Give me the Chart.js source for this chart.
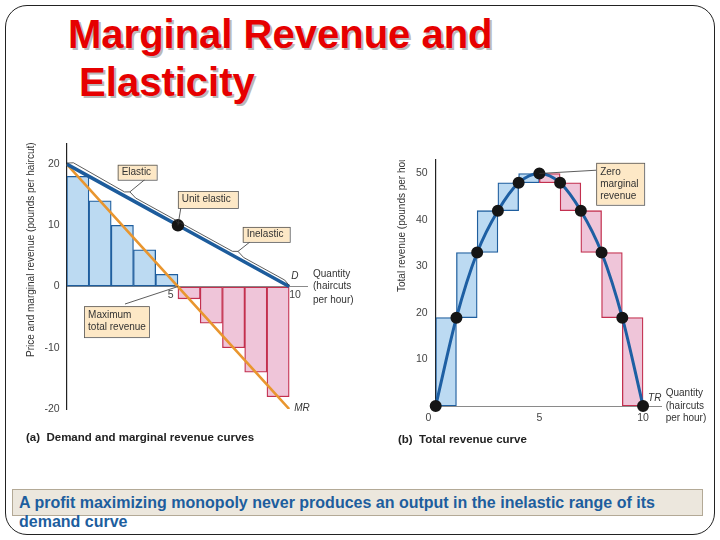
<!DOCTYPE html>
<html>
<head>
<meta charset="utf-8">
<script src="https://cdn.jsdelivr.net/npm/chart.js@4.4.1/dist/chart.umd.min.js"></script>
<style>
    html, body { margin: 0; padding: 0; background: #fff; }
    body { width: 720px; height: 540px; position: relative; overflow: hidden; font-family: "Liberation Sans", Arial, sans-serif; }
    #frame { position: absolute; left: 5px; top: 5px; width: 708px; height: 528px; border: 1px solid #222; border-radius: 22px; }
    #title { position: absolute; left: 68px; top: 10px; font-size: 40px; font-weight: bold; line-height: 48px; color: #e60000; text-shadow: 2px 2px 0 #b9b9b9; white-space: nowrap; }
    .wrap { position: absolute; }
    #mrWrap { left: 0; top: 130px; width: 360px; height: 320px; }
    #trWrap { left: 380px; top: 140px; width: 340px; height: 310px; }
    .cap { position: absolute; font-size: 11.5px; line-height: 14px; font-weight: bold; color: #222; white-space: nowrap; }
    #note { position: absolute; left: 12px; top: 489px; width: 689px; height: 25px; background: #ece7dd; border: 1px solid #b3a996; }
    #noteText { position: absolute; left: 19px; top: 493px; font-size: 16px; line-height: 19px; font-weight: bold; color: #1d5e9e; white-space: nowrap; }
</style>
</head>
<body>
<div id="frame"></div>
<div id="title">Marginal Revenue and<br>&nbsp;Elasticity</div>

<div class="wrap" id="mrWrap"><canvas id="mrChart" width="360" height="320"></canvas></div>
<div class="wrap" id="trWrap"><canvas id="trChart" width="340" height="310"></canvas></div>

<div class="cap" style="left:26px; top:430px;">(a)&nbsp; Demand and marginal revenue curves</div>
<div class="cap" style="left:398px; top:432px;">(b)&nbsp; Total revenue curve</div>

<div id="note"></div>
<div id="noteText">A profit maximizing monopoly never produces an output in the inelastic range of its<br>demand curve</div>

<script>
// данные: количество стрижек в час
const quantity = [0, 1, 2, 3, 4, 5, 6, 7, 8, 9, 10];
const demandPrice = [20, 18, 16, 14, 12, 10, 8, 6, 4, 2, 0];
const marginalRevenueLine = [20, 16, 12, 8, 4, 0, -4, -8, -12, -16, -20];
// столбики: середины интервалов и предельная выручка
const barCentres = [0.5, 1.5, 2.5, 3.5, 4.5, 5.5, 6.5, 7.5, 8.5, 9.5];
const marginalRevenue = [18, 14, 10, 6, 2, -2, -6, -10, -14, -18];
const totalRevenue = [0, 19, 33, 42, 48, 50, 48, 42, 33, 19, 0];
// подписи осей
const priceTicks = [-20, -10, 0, 10, 20];
const revenueTicks = [10, 20, 30, 40, 50];
const quantityTicksA = [5, 10];
const quantityTicksB = [0, 5, 10];

const BLUE_FILL = '#bcdaf2';
const BLUE_LINE = '#1f5e9e';
const PINK_FILL = '#efc5d9';
const PINK_LINE = '#c3304f';
const ORANGE = '#e9962f';
const TXT = '#333';
const FONT = '"Liberation Sans", Arial, sans-serif';

const barFill = marginalRevenue.map(v => v > 0 ? BLUE_FILL : PINK_FILL);
const barEdge = marginalRevenue.map(v => v > 0 ? BLUE_LINE : PINK_LINE);

function demandAt(q) {
    const i = Math.min(Math.floor(q), quantity.length - 2);
    const t = q - quantity[i];
    return demandPrice[i] + (demandPrice[i + 1] - demandPrice[i]) * t;
}

function drawBox(ctx, x, y, w, h, lines) {
    ctx.save();
    ctx.fillStyle = '#fde8c6';
    ctx.strokeStyle = '#555';
    ctx.lineWidth = 0.8;
    ctx.fillRect(x, y, w, h);
    ctx.strokeRect(x + 0.5, y + 0.5, w, h);
    ctx.fillStyle = TXT;
    ctx.font = '10px ' + FONT;
    ctx.textAlign = 'left';
    ctx.textBaseline = 'middle';
    const mid = y + h / 2;
    lines.forEach((t, i) => ctx.fillText(t, x + 4, mid + (i - (lines.length - 1) / 2) * 12));
    ctx.restore();
}

function leader(ctx, x1, y1, x2, y2) {
    ctx.save();
    ctx.strokeStyle = '#333';
    ctx.lineWidth = 0.8;
    ctx.beginPath();
    ctx.moveTo(x1, y1);
    ctx.lineTo(x2, y2);
    ctx.stroke();
    ctx.restore();
}

function label(ctx, text, x, y, italic) {
    ctx.save();
    ctx.fillStyle = TXT;
    ctx.font = (italic ? 'italic ' : '') + '10px ' + FONT;
    ctx.textAlign = 'left';
    ctx.textBaseline = 'middle';
    ctx.fillText(text, x, y);
    ctx.restore();
}

function axisTitle(ctx, text, x, y, clipTop) {
    ctx.save();
    ctx.beginPath();
    ctx.rect(0, clipTop, ctx.canvas.width, ctx.canvas.height);
    ctx.clip();
    ctx.translate(x, y);
    ctx.rotate(-Math.PI / 2);
    ctx.fillStyle = TXT;
    ctx.font = '10px ' + FONT;
    ctx.textAlign = 'left';
    ctx.textBaseline = 'middle';
    ctx.fillText(text, 0, 0);
    ctx.restore();
}

// подписи и выноски для графика (a)
const notesA = {
    id: 'notesA',
    afterDatasetsDraw(chart) {
        const ctx = chart.ctx;
        const xs = chart.scales.x, ys = chart.scales.y;
        const px = q => xs.getPixelForValue(q);
        const py = v => ys.getPixelForValue(v);

        // скобка над кривой спроса
        const brace = [[0, -1], [0.3, -5], [2.6, -4], [2.84, -7], [3.1, -4], [4.9, -4], [5, -2], [5.1, -4], [7.45, -4], [7.7, -7], [7.95, -4], [9.8, -4], [10, -1]];
        ctx.save();
        ctx.strokeStyle = '#333';
        ctx.lineWidth = 0.8;
        ctx.beginPath();
        brace.forEach(([q, d], i) => {
            const X = px(q), Y = py(demandAt(q)) + d;
            if (i === 0) ctx.moveTo(X, Y); else ctx.lineTo(X, Y);
        });
        ctx.stroke();
        ctx.restore();

        leader(ctx, px(3.52), py(17.5), px(2.84), py(demandAt(2.84)) - 7);
        leader(ctx, px(5.13), py(12.85), px(5), py(demandAt(5)));
        leader(ctx, px(8.24), py(7.3), px(7.7), py(demandAt(7.7)) - 7);
        leader(ctx, px(2.62), py(-2.85), px(5), py(0));

        drawBox(ctx, px(2.29), py(19.9), 39, 15, ['Elastic']);
        drawBox(ctx, px(4.995), py(15.6), 60, 17, ['Unit elastic']);
        drawBox(ctx, px(7.91), py(9.75), 47, 15, ['Inelastic']);
        drawBox(ctx, px(0.78), py(-3.2), 65, 31, ['Maximum', 'total revenue']);

        label(ctx, 'D', px(10) + 2, py(0) - 10, true);
        label(ctx, 'MR', px(10) + 5, py(-20) - 1, true);
        const qx = chart.chartArea.right + 6, qy = py(0);
        label(ctx, 'Quantity', qx, qy - 12.5);
        label(ctx, '(haircuts', qx, qy);
        label(ctx, 'per hour)', qx, qy + 13.5);

        axisTitle(ctx, 'Price and marginal revenue (pounds per haircut)', 31, 227, 10);
    }
};

// подписи и выноски для графика (b)
const notesB = {
    id: 'notesB',
    afterDatasetsDraw(chart) {
        const ctx = chart.ctx;
        const xs = chart.scales.x, ys = chart.scales.y;
        const px = q => xs.getPixelForValue(q);
        const py = v => ys.getPixelForValue(v);

        leader(ctx, px(7.74), py(50.7), px(5), py(totalRevenue[5]));
        drawBox(ctx, px(7.74), py(52.3), 48, 42, ['Zero', 'marginal', 'revenue']);

        label(ctx, 'TR', px(10) + 5, py(0) - 8, true);
        const qx = chart.chartArea.right + 4, qy = py(0);
        label(ctx, 'Quantity', qx, qy - 12.7);
        label(ctx, '(haircuts', qx, qy);
        label(ctx, 'per hour)', qx, qy + 12.3);

        axisTitle(ctx, 'Total revenue (pounds per hour)', 22, 152, 20);
    }
};

const tickFont = { family: FONT, size: 10.5 };
const axisGrid = { display: true, drawOnChartArea: false, drawTicks: false };

// сдвигаем подписи количества от столбиков: 5 — влево, 10 — вправо
function quantityLabel(v) {
    if (v === 10) return '    10';
    return v + '     ';
}

// (a) спрос и предельная выручка
new Chart(document.getElementById('mrChart'), {
    type: 'bar',
    data: {
        datasets: [
            {
                type: 'line',
                label: 'D',
                data: quantity.map((q, i) => ({ x: q, y: demandPrice[i] })),
                borderColor: '#1d5c9c',
                borderWidth: 3.5,
                pointRadius: quantity.map(q => q === 5 ? 4.5 : 0),
                pointBackgroundColor: '#151515',
                pointBorderColor: '#151515',
                order: 0
            },
            {
                type: 'line',
                label: 'MR',
                data: quantity.map((q, i) => ({ x: q, y: marginalRevenueLine[i] })),
                borderColor: ORANGE,
                borderWidth: 2.6,
                pointRadius: 0,
                order: 1
            },
            {
                type: 'bar',
                label: 'MR bars',
                data: barCentres.map((c, i) => ({ x: c, y: marginalRevenue[i] })),
                backgroundColor: barFill,
                borderColor: barEdge,
                borderWidth: 1.3,
                borderSkipped: false,
                barPercentage: 1,
                categoryPercentage: 1,
                order: 2
            }
        ]
    },
    options: {
        responsive: false,
        animation: false,
        events: [],
        layout: { padding: { left: 0, top: 13, right: 53, bottom: 41 } },
        plugins: { legend: { display: false }, tooltip: { enabled: false } },
        scales: {
            x: {
                type: 'linear',
                min: 0,
                max: 10.8,
                offset: false,
                position: { y: 0 },
                z: 1,
                afterBuildTicks: s => { s.ticks = quantityTicksA.map(v => ({ value: v })); },
                ticks: { font: tickFont, color: '#444', padding: 2, maxRotation: 0, callback: quantityLabel },
                grid: { ...axisGrid, offset: false },
                border: { color: '#8a8a8a', width: 1 }
            },
            y: {
                type: 'linear',
                min: -20,
                max: 23.4,
                afterBuildTicks: s => { s.ticks = priceTicks.map(v => ({ value: v })); },
                afterFit: s => { s.width = 66.7; },
                ticks: { font: tickFont, color: '#444', padding: 7 },
                grid: axisGrid,
                border: { color: '#222', width: 1.2 }
            }
        }
    },
    plugins: [notesA]
});

// (b) кривая общей выручки
new Chart(document.getElementById('trChart'), {
    type: 'bar',
    data: {
        datasets: [
            {
                type: 'line',
                label: 'TR',
                data: quantity.map((q, i) => ({ x: q, y: totalRevenue[i] })),
                borderColor: '#1e5fa3',
                borderWidth: 3,
                cubicInterpolationMode: 'monotone',
                pointRadius: 4.5,
                pointBackgroundColor: '#151515',
                pointBorderColor: '#151515',
                clip: 8,
                order: 0
            },
            {
                type: 'bar',
                label: 'TR steps',
                data: barCentres.map((c, i) => ({ x: c, y: [totalRevenue[i], totalRevenue[i + 1]] })),
                backgroundColor: barFill,
                borderColor: barEdge,
                borderWidth: 1.3,
                borderSkipped: false,
                barPercentage: 1,
                categoryPercentage: 1,
                order: 1
            }
        ]
    },
    options: {
        responsive: false,
        animation: false,
        events: [],
        layout: { padding: { left: 0, top: 20, right: 58.3, bottom: 44 } },
        plugins: { legend: { display: false }, tooltip: { enabled: false } },
        scales: {
            x: {
                type: 'linear',
                min: 0,
                max: 10.9,
                offset: false,
                position: { y: 0 },
                afterBuildTicks: s => { s.ticks = quantityTicksB.map(v => ({ value: v })); },
                ticks: { font: tickFont, color: '#444', padding: 6, maxRotation: 0, callback: v => v === 0 ? '0     ' : String(v) },
                grid: { ...axisGrid, offset: false },
                border: { color: '#8a8a8a', width: 1 }
            },
            y: {
                type: 'linear',
                min: 0,
                max: 52.9,
                afterBuildTicks: s => { s.ticks = revenueTicks.map(v => ({ value: v })); },
                afterFit: s => { s.width = 55.7; },
                ticks: { font: tickFont, color: '#444', padding: 8 },
                grid: axisGrid,
                border: { color: '#222', width: 1.2 }
            }
        }
    },
    plugins: [notesB]
});
</script>
</body>
</html>
